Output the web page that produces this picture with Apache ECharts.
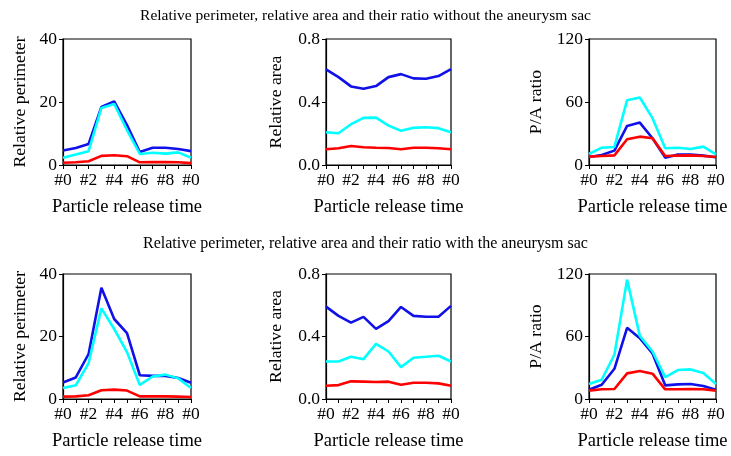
<!DOCTYPE html>
<html><head><meta charset="utf-8">
<script src="https://cdn.jsdelivr.net/npm/echarts@6/dist/echarts.min.js"></script>
<style>html,body{margin:0;padding:0;background:#fff}#c{width:731px;height:456px}</style>
</head><body><div id="c"></div>
<script>
var xIdx = [0,1,2,3,4,5,6,7,8,9,10];
var tickLabels = ['#0','#1','#2','#3','#4','#5','#6','#7','#8','#9','#0'];
var titles = ['Relative perimeter, relative area and their ratio without the aneurysm sac',
              'Relative perimeter, relative area and their ratio with the aneurysm sac'];
var yNames = ['Relative perimeter','Relative area','P/A ratio'];
var xName = 'Particle release time';

// Top row (without sac)
var perimBlueA = [4.6,5.4,6.7,18.4,20.2,12.7,4.1,5.5,5.5,5.1,4.4];
var perimCyanA = [2.3,3.3,4.4,18.1,19.4,11.1,3.5,3.9,3.6,4.0,2.3];
var perimRedA  = [0.7,0.85,1.2,2.9,3.1,2.8,0.85,0.9,0.95,0.85,0.6];
var areaBlueA  = [0.607,0.558,0.499,0.484,0.501,0.558,0.577,0.55,0.548,0.565,0.609];
var areaCyanA  = [0.208,0.202,0.259,0.299,0.301,0.25,0.217,0.236,0.24,0.234,0.208];
var areaRedA   = [0.1,0.106,0.121,0.113,0.11,0.108,0.1,0.11,0.11,0.106,0.1];
var ratioBlueA = [7.6,9.5,13.7,37.2,40.4,25.5,7.0,9.9,9.9,8.9,7.3];
var ratioCyanA = [10.5,16.5,17.2,61.7,64.3,44.6,15.9,16.5,15.3,17.5,10.2];
var ratioRedA  = [8.0,8.6,9.2,24.5,27.0,25.5,8.6,8.9,9.2,8.6,7.6];
// Bottom row (with sac)
var perimBlueB = [5.3,6.9,14.4,35.6,25.6,21.1,7.6,7.4,7.4,6.7,5.2];
var perimCyanB = [3.5,4.4,11.5,29.0,22.4,15.0,4.5,7.2,7.8,6.6,3.5];
var perimRedB  = [0.75,0.85,1.2,2.8,3.0,2.7,0.85,0.85,0.85,0.75,0.65];
var areaBlueB  = [0.591,0.532,0.489,0.526,0.449,0.498,0.589,0.532,0.526,0.526,0.596];
var areaCyanB  = [0.24,0.24,0.27,0.255,0.353,0.304,0.204,0.264,0.27,0.277,0.24];
var areaRedB   = [0.085,0.089,0.113,0.111,0.109,0.111,0.091,0.104,0.104,0.1,0.085];
var ratioBlueB = [8.9,13.7,29.0,68.3,58.4,43.7,13.1,14.0,14.4,12.4,8.9];
var ratioCyanB = [14.4,18.5,42.5,114.6,60.6,45.6,21.0,27.8,28.4,24.9,14.4];
var ratioRedB  = [8.0,9.3,9.6,24.6,26.8,24.3,9.3,9.3,9.6,9.3,8.0];

var yMax = [40, 0.8, 120];
var yInt = [20, 0.4, 60];
var yDec = [0, 1, 0];

var panels = [
  [perimBlueA, perimCyanA, perimRedA],
  [areaBlueA, areaCyanA, areaRedA],
  [ratioBlueA, ratioCyanA, ratioRedA],
  [perimBlueB, perimCyanB, perimRedB],
  [areaBlueB, areaCyanB, areaRedB],
  [ratioBlueB, ratioCyanB, ratioRedB]
];
var colors = ['#1010e8', '#00ffff', '#ff0000'];

var FONT = 'Liberation Serif';
var lefts = [63, 326, 589];
var widths = [128, 125, 127];
var tops = [39, 274];
var heights = [126, 125];
var nameGaps = [34, 41, 44];

var grids = [], xAxes = [], yAxes = [], series = [];
for (var p = 0; p < 6; p++) {
  var col = p % 3, row = Math.floor(p / 3);
  grids.push({left: lefts[col], top: tops[row], width: widths[col], height: heights[row],
    show: true, borderColor: '#000', borderWidth: 1.2, backgroundColor: 'transparent'});
  xAxes.push({type: 'value', gridIndex: p, min: 0, max: 10, interval: 1,
    name: xName, nameLocation: 'middle', nameGap: 33,
    nameTextStyle: {fontFamily: FONT, fontSize: 18.5, color: '#000'},
    axisLine: {show: true, lineStyle: {color: '#000', width: 1.2}},
    axisTick: {show: true, length: 4, lineStyle: {color: '#000', width: 1}},
    axisLabel: {fontFamily: FONT, fontSize: 17.5, color: '#000', margin: 6,
      formatter: function (v) { return v % 2 === 0 ? tickLabels[v] : ''; }},
    splitLine: {show: false}});
  (function (c) {
    yAxes.push({type: 'value', gridIndex: p, min: 0, max: yMax[c], interval: yInt[c],
      name: yNames[c], nameLocation: 'middle', nameGap: nameGaps[c],
      nameTextStyle: {fontFamily: FONT, fontSize: 17.7, color: '#000'},
      axisLine: {show: true, lineStyle: {color: '#000', width: 1.2}},
      axisTick: {show: true, length: 4, lineStyle: {color: '#000', width: 1}},
      axisLabel: {fontFamily: FONT, fontSize: 17.5, color: '#000', margin: 6,
        formatter: function (v) { return v.toFixed(yDec[c]); }},
      splitLine: {show: false}});
  })(col);
  for (var s = 0; s < 3; s++) {
    series.push({type: 'line', xAxisIndex: p, yAxisIndex: p, symbol: 'none',
      lineStyle: {color: colors[s], width: 2.6}, itemStyle: {color: colors[s]},
      data: xIdx.map(function (x, i) { return [x, panels[p][s][i]]; }),
      z: 2 + s, animation: false});
  }
}

var chart = echarts.init(document.getElementById('c'));
chart.setOption({
  animation: false,
  backgroundColor: '#fff',
  title: [
    {text: titles[0], left: 'center', top: 3, textStyle: {fontFamily: FONT, fontSize: 15.5, fontWeight: 'normal', color: '#000'}},
    {text: titles[1], left: 'center', top: 231, textStyle: {fontFamily: FONT, fontSize: 16, fontWeight: 'normal', color: '#000'}}
  ],
  grid: grids, xAxis: xAxes, yAxis: yAxes, series: series
});
</script></body></html>
